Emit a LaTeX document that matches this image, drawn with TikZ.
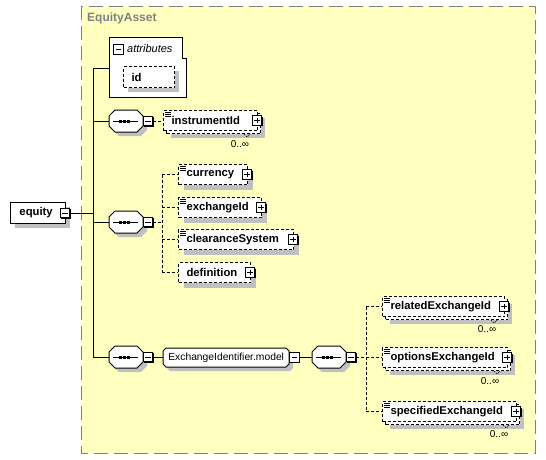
\documentclass[tikz,border=0pt]{standalone}
\usepackage{fontspec}
\setmainfont{Liberation Sans}
\usetikzlibrary{shadows}
\definecolor{bgyellow}{RGB}{255,255,192}
\definecolor{framegray}{RGB}{128,128,128}
\definecolor{shadowgray}{RGB}{192,192,192}
\tikzset{
  elemfont/.style={font=\fontsize{11.3}{13}\selectfont\bfseries},
  elem/.style={draw=black, dash pattern=on 3pt off 2pt, fill=white, rectangle, anchor=north west,
    inner xsep=8pt, inner ysep=0pt, minimum height=20pt, align=left, elemfont, line width=1pt},
  shade/.style={drop shadow={shadow xshift=#1, shadow yshift=-#1, fill=shadowgray, opacity=1}},
  stacked/.style={drop shadow={shadow xshift=7pt, shadow yshift=-7pt, fill=shadowgray, opacity=1},
    general shadow={shadow xshift=3pt, shadow yshift=-3pt, draw=black, dash pattern=on 3pt off 2pt, fill=white, line width=1pt}},
  icon/.style={rectangle, draw=black, fill=white, minimum size=9.5pt, inner sep=0pt, line width=1pt,
    drop shadow={shadow xshift=1pt, shadow yshift=-1pt, fill=black, opacity=1}},
  minusicon/.style={icon, path picture={\draw[line width=1pt] ([xshift=2pt]path picture bounding box.west) -- ([xshift=-2pt]path picture bounding box.east);}},
  plusicon/.style={icon, path picture={\draw[line width=1pt] ([xshift=2pt]path picture bounding box.west) -- ([xshift=-2pt]path picture bounding box.east);
     \draw[line width=1pt] ([yshift=-2pt]path picture bounding box.north) -- ([yshift=2pt]path picture bounding box.south);}},
  link/.style={line width=1pt, draw=black},
  optlink/.style={link, dash pattern=on 3pt off 2pt},
  mult/.style={font=\fontsize{10}{12}\selectfont, anchor=center, inner sep=0pt},
  simple/.style={line width=0.7pt},
  notch/.style={line width=0.7pt, dash pattern=on 1.5pt off 1pt},
}
\newcommand\seqshape[3]{%
  \begin{scope}[shift={(#2,#3)}]
    \fill[shadowgray] (10,4) -- (32,4) -- (38,10) -- (38,20) -- (32,26) -- (10,26) -- (4,20) -- (4,10) -- cycle;
    \draw[link, fill=white] (6,0) -- (28,0) -- (34,6) -- (34,16) -- (28,22) -- (6,22) -- (0,16) -- (0,6) -- cycle;
    \draw[link] (4,11) -- (29,11);
    \fill (9.5,9.5) rectangle ++(3,3);
    \fill (13.5,9.5) rectangle ++(3,3);
    \fill (17.5,9.5) rectangle ++(3,3);
    \node[inner sep=0pt, minimum width=34pt, minimum height=22pt, anchor=north west] (#1) at (0,0) {};
  \end{scope}}
\newcommand\simpleicon[1]{%
  \draw[simple] ([shift={(2,2)}]#1.north west) -- ++(6,0);
  \draw[simple] ([shift={(2,4)}]#1.north west) -- ++(6,0);
  \draw[simple] ([shift={(2,6)}]#1.north west) -- ++(6,0);}
\newcommand\stacknotch[1]{%
  \draw[notch] ([shift={(-14,3)}]#1.south east) -- ++(3,3) -- ++(3,-3);}
\begin{document}
\begin{tikzpicture}[x=1pt, y=-1pt]
\useasboundingbox (0,0) rectangle (546,459);
% complex type frame
\draw[framegray, line width=1pt, dash pattern=on 14pt off 6pt, fill=bgyellow] (81,6) rectangle (535,453);
\node[anchor=west, text=framegray, font=\fontsize{12}{14}\selectfont\bfseries, inner sep=0pt] (title) at (87,18) {EquityAsset};

% root element
\node[draw=black, line width=1pt, fill=white, shade=4pt, anchor=north west, minimum height=21pt,
      inner xsep=9pt, inner ysep=0pt, text width=37pt, align=left, elemfont] (equity) at (10,202) {equity};
\node[minusicon] (eq-m) at ([xshift=-1pt]equity.east) {};

% attributes
\fill[white] (109,37) -- (182,37) -- (182,58) -- (186,58) -- (186,97) -- (109,97) -- cycle;
\draw[link] (109,37) -- (182,37) -- (182,58) -- (186,58) -- (186,97) -- (109,97) -- cycle;
\node[inner sep=0pt, minimum width=77pt, minimum height=60pt, anchor=north west] (attr) at (109,37) {};
\node[minusicon] (attr-m) at (118.5,49.5) {};
\node[anchor=west, inner sep=0pt, font=\fontsize{11}{13}\selectfont\itshape] (attr-l) at (127,49) {attributes};
\node[elem, shade=4pt, minimum height=21pt, text width=35pt] (id) at (123,66) {id};

% trunk
\coordinate (tTop) at (93,68);
\coordinate (tBot) at (93,357);
\draw[link] (tTop) -- (tBot);
\draw[link] (eq-m.east) -- (eq-m.east -| tTop);
\draw[link] (tTop) -- (tTop -| attr.west);

% sequence 1
\seqshape{s1}{109}{110}
\node[minusicon] (s1-m) at (148,121) {};
\node[elem, stacked, text width=78pt] (inst) at (163,110) {instrumentId};
\simpleicon{inst}
\stacknotch{inst}
\node[plusicon] (inst-p) at ([xshift=-1pt]inst.east) {};
\node[mult] (inst-mul) at (240,144) {0..∞};
\draw[link] (s1.west -| tTop) -- (s1.west);
\draw[optlink] (s1-m.east) -- (s1-m.east -| inst.west);

% sequence 2
\seqshape{s2}{109}{211}
\node[minusicon] (s2-m) at (148,222) {};
\draw[link] (s2.west -| tTop) -- (s2.west);
\node[elem, shade=5pt, text width=53pt] (cur) at (178,164) {currency};
\simpleicon{cur}
\node[plusicon] (cur-p) at ([xshift=-1pt]cur.east) {};
\node[elem, shade=5pt, text width=67pt] (exch) at (178,197) {exchangeId};
\simpleicon{exch}
\node[plusicon] (exch-p) at ([xshift=-1pt]exch.east) {};
\node[elem, shade=5pt, text width=99pt] (clear) at (178,229) {clearanceSystem};
\simpleicon{clear}
\node[plusicon] (clear-p) at ([xshift=-1pt]clear.east) {};
\node[elem, shade=5pt, text width=56pt] (def) at (178,262) {definition};
\node[plusicon] (def-p) at ([xshift=-1pt]def.east) {};
\coordinate (v2) at (162,222);
\draw[optlink] (s2-m.east) -- (v2);
\draw[optlink] (cur.west -| v2) -- (def.west -| v2);
\draw[optlink] (cur.west -| v2) -- (cur.west);
\draw[optlink] (exch.west -| v2) -- (exch.west);
\draw[optlink] (clear.west -| v2) -- (clear.west);
\draw[optlink] (def.west -| v2) -- (def.west);

% sequence 3 with group
\seqshape{s3}{109}{346}
\node[minusicon] (s3-m) at (148,357) {};
\draw[link] (s3.west -| tTop) -- (s3.west);
\fill[shadowgray] (170,352) -- (290,352) -- (293,355) -- (293,368) -- (290,371) -- (170,371) -- (167,368) -- (167,355) -- cycle;
\draw[link, fill=white] (166,348) -- (286,348) -- (289,351) -- (289,364) -- (286,367) -- (166,367) -- (163,364) -- (163,351) -- cycle;
\node[inner sep=0pt, minimum width=126pt, minimum height=19pt, anchor=north west,
      font=\fontsize{10.3}{12}\selectfont] (grp) at (163,348) {ExchangeIdentifier.model};
\node[minusicon] (grp-m) at (294.5,357.5) {};
\draw[link] (s3-m.east) -- (s3-m.east -| grp.west);

% sequence 4
\seqshape{s4}{312}{346}
\node[minusicon] (s4-m) at (351,357) {};
\draw[link] (grp-m.east) -- (grp-m.east -| s4.west);
\node[elem, stacked, text width=106pt] (rel) at (382,296) {relatedExchangeId};
\simpleicon{rel}
\stacknotch{rel}
\node[plusicon] (rel-p) at ([xshift=-1pt]rel.east) {};
\node[mult] (rel-mul) at (487,329) {0..∞};
\node[elem, stacked, text width=109pt] (opt) at (382,347) {optionsExchangeId};
\simpleicon{opt}
\stacknotch{opt}
\node[plusicon] (opt-p) at ([xshift=-1pt]opt.east) {};
\node[mult] (opt-mul) at (490,381) {0..∞};
\node[elem, stacked, text width=118pt] (spec) at (382,401) {specifiedExchangeId};
\simpleicon{spec}
\stacknotch{spec}
\node[plusicon] (spec-p) at ([xshift=-1pt]spec.east) {};
\node[mult] (spec-mul) at (499,434) {0..∞};
\coordinate (v4) at (366,357);
\draw[optlink] (s4-m.east) -- (v4);
\draw[optlink] (rel.west -| v4) -- (spec.west -| v4);
\draw[optlink] (rel.west -| v4) -- (rel.west);
\draw[optlink] (opt.west -| v4) -- (opt.west);
\draw[optlink] (spec.west -| v4) -- (spec.west);
\end{tikzpicture}
\end{document}
